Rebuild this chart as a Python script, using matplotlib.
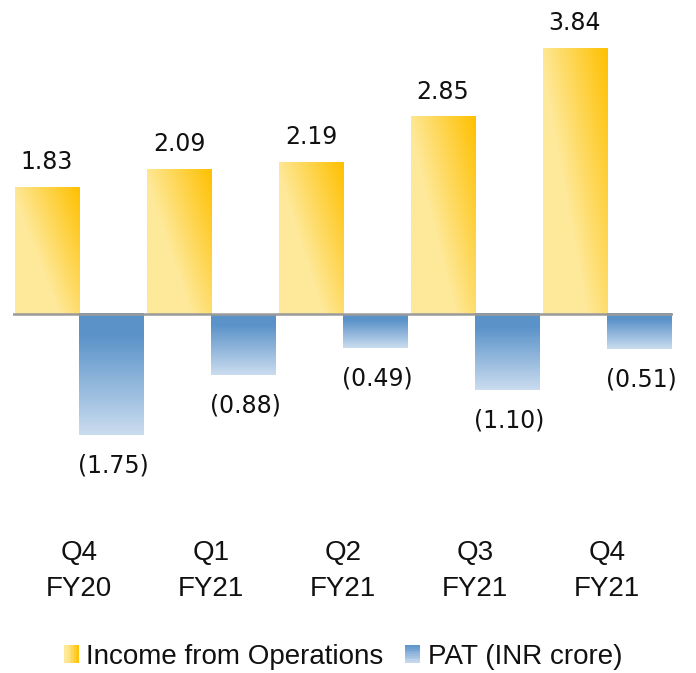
import numpy as np
import matplotlib
matplotlib.use("Agg")
import matplotlib.pyplot as plt
from matplotlib.patches import Rectangle
from matplotlib.legend_handler import HandlerBase

# data
quarters = ["Q4\nFY20", "Q1\nFY21", "Q2\nFY21", "Q3\nFY21", "Q4\nFY21"]
income = [1.83, 2.09, 2.19, 2.85, 3.84]
pat = [-1.75, -0.88, -0.49, -1.10, -0.51]
series_names = ["Income from Operations", "PAT (INR crore)"]

yel_light = np.array([254, 233, 154]) / 255.0
yel_dark = np.array([255, 192, 0]) / 255.0
blu_dark = np.array([91, 147, 201]) / 255.0
blu_light = np.array([202, 220, 239]) / 255.0


def yellow_grad(n=80):
    u = np.linspace(0, 1, n)[None, :]
    v = np.linspace(1, 0, n)[:, None]
    t = np.clip((u * 0.8 + v * 0.6 - 0.55) / 0.85, 0, 1)
    return yel_light + (yel_dark - yel_light) * t[..., None]


def blue_grad(n=60):
    v = np.linspace(1, 0, n)[:, None] * np.ones((1, 4))
    t = np.clip(v / 0.82, 0, 1)
    return blu_light + (blu_dark - blu_light) * t[..., None]


fig = plt.figure(figsize=(6.96, 6.73), dpi=100)
ax = fig.add_axes([13 / 696, 1 - 500 / 673, 660 / 696, 490 / 673])

x = np.arange(len(quarters))
w = 0.485
ybars = ax.bar(x - w / 2, income, w, color="none", zorder=2)
bbars = ax.bar(x + w / 2, pat, w, color="none", zorder=2)

for b in ybars:
    x0, y0 = b.get_x(), b.get_y()
    ax.imshow(yellow_grad(), extent=(x0, x0 + b.get_width(), y0, y0 + b.get_height()),
              aspect="auto", interpolation="bilinear", zorder=2)
for b in bbars:
    x0, y0 = b.get_x(), b.get_y()
    ax.imshow(blue_grad(), extent=(x0, x0 + b.get_width(), y0 + b.get_height(), y0),
              aspect="auto", interpolation="bilinear", zorder=2)

ax.axhline(0, color="#9a9a9a", lw=1.8, zorder=3)

vfont = dict(family="DejaVu Sans", fontsize=17, color="#111111")
for b, v in zip(ybars, income):
    ax.annotate("%.2f" % v, (b.get_x() + b.get_width() / 2, v), xytext=(0, 18),
                textcoords="offset points", ha="center", va="center", **vfont)
for b, v in zip(bbars, pat):
    ax.annotate("(%.2f)" % abs(v), (b.get_x() + b.get_width() / 2 + 0.02, v), xytext=(0, -22),
                textcoords="offset points", ha="center", va="center", **vfont)

ax.set_xlim(-0.5, 4.5)
ax.set_ylim(-2.688, 4.393)
ax.set_xticks(x)
ax.set_xticklabels(quarters, family="Liberation Sans", fontsize=20, color="#111111",
                   linespacing=1.5)
ax.tick_params(axis="x", length=0, pad=29)
ax.set_yticks([])
for s in ax.spines.values():
    s.set_visible(False)


class GradHandler(HandlerBase):
    def __init__(self, kind):
        super().__init__()
        self.kind = kind

    def create_artists(self, legend, orig_handle, xdescent, ydescent, width, height,
                       fontsize, trans):
        arts = []
        n = 10
        for i in range(n):
            t = (i + 0.5) / n
            if self.kind == "y":
                c = yel_dark + (yel_light - yel_dark) * min(1, t * 1.3)
                r = Rectangle((-xdescent + width * (1 - (i + 1) / n), -ydescent), width / n * 1.05,
                              height, facecolor=c, edgecolor="none", transform=trans)
            else:
                c = blu_dark + (blu_light - blu_dark) * t
                r = Rectangle((-xdescent, -ydescent + height * (1 - (i + 1) / n)), width,
                              height / n * 1.05, facecolor=c, edgecolor="none", transform=trans)
            arts.append(r)
        return arts


h1 = Rectangle((0, 0), 1, 1)
h2 = Rectangle((0, 0), 1, 1)
fig.legend([h1, h2], series_names, loc="center", bbox_to_anchor=(343 / 696, 1 - 657 / 673),
           ncol=2, frameon=False, prop={"family": "Liberation Sans", "size": 20},
           handler_map={h1: GradHandler("y"), h2: GradHandler("b")},
           handlelength=0.54, handleheight=0.6, handletextpad=0.27, columnspacing=0.8,
           labelcolor="#111111")

fig.savefig("out.png", dpi=100)
